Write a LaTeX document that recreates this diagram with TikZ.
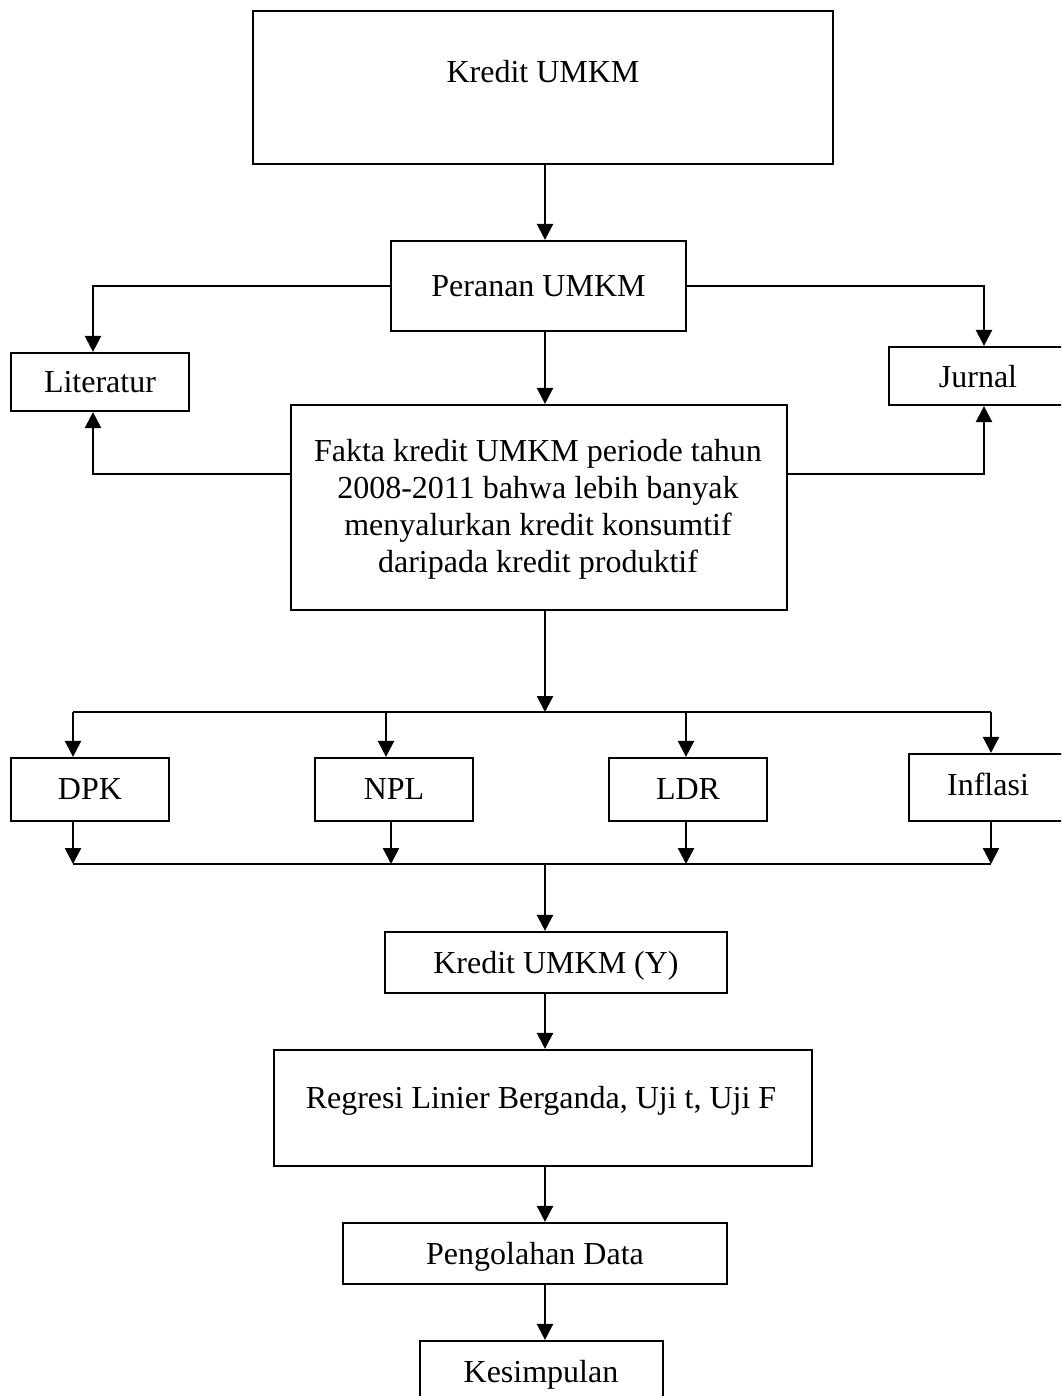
\documentclass[tikz,border=0pt]{standalone}
\usepackage{fontspec}
\setmainfont{Liberation Serif}
\usetikzlibrary{arrows.meta}
\begin{document}
\begin{tikzpicture}[x=1pt,y=-1pt,
  box/.style={draw=black,line width=2.2pt,rectangle,inner sep=0pt,text depth=0pt,font=\fontsize{32}{37}\selectfont},
  txt/.style={inner sep=0pt,align=center,font=\fontsize{32}{37}\selectfont},
  arr/.style={line width=2.4pt,-{Triangle[width=16pt,length=16pt]}},
  ln/.style={line width=2.4pt}]
\useasboundingbox (0,0) rectangle (1061,1396);
\clip (0,0) rectangle (1061,1396);
% coordinates
\coordinate (spine) at (545,0);
\coordinate (lx) at (93,0);
\coordinate (jx) at (984,0);
\coordinate (fy) at (0,474);
\coordinate (bt) at (545,712);
\coordinate (btl) at (73,712);
\coordinate (btn) at (386,712);
\coordinate (btd) at (686,712);
\coordinate (btr) at (991,712);
\coordinate (bb) at (545,864);
\coordinate (bbl) at (73,864);
\coordinate (bbn) at (391,864);
\coordinate (bbd) at (686,864);
\coordinate (bbr) at (991,864);
% boxes
\node[box,minimum width=580,minimum height=153] (k1) at (543,87.5) {};
\node[txt] (k1t) at (543,72) {Kredit UMKM};
\node[box,minimum width=295,minimum height=90] (pr) at (538.5,286) {Peranan UMKM};
\node[box,minimum width=178,minimum height=58] (lit) at (100,382) {Literatur};
\node[box,minimum width=186,minimum height=58] (jur) at (982,376) {};
\node[txt] (jurt) at (978,377) {Jurnal};
\node[box,minimum width=496,minimum height=205] (fk) at (539,507.5) {};
\node[txt] (fkt) at (538,509) {Fakta kredit UMKM periode tahun\\2008-2011 bahwa lebih banyak\\menyalurkan kredit konsumtif\\daripada kredit produktif};
\node[box,minimum width=158,minimum height=63] (dpk) at (90,789.5) {DPK};
\node[box,minimum width=158,minimum height=63] (npl) at (394,789.5) {NPL};
\node[box,minimum width=158,minimum height=63] (ldr) at (688,789.5) {LDR};
\node[box,minimum width=166,minimum height=67] (inf) at (992,787.5) {};
\node[txt] (inft) at (988,784.5) {Inflasi};
\node[box,minimum width=342,minimum height=61] (ky) at (556,962.5) {Kredit UMKM (Y)};
\node[box,minimum width=538,minimum height=116] (rg) at (543,1108) {};
\node[txt,text depth=0pt] (rgt) at (541,1097) {Regresi Linier Berganda, Uji t, Uji F};
\node[box,minimum width=384,minimum height=61] (pd) at (535,1253.5) {Pengolahan Data};
\node[box,minimum width=243,minimum height=69] (ks) at (541.5,1375.5) {};
\node[txt,text depth=0pt] (kst) at (541,1371) {Kesimpulan};
% connectors
\draw[arr] (k1.south -| spine) -- (pr.north -| spine);
\draw[arr] (pr.west) -| (lit.north -| lx);
\draw[arr] (pr.east) -| (jur.north -| jx);
\draw[arr] (pr.south -| spine) -- (fk.north -| spine);
\draw[arr] (fk.west |- fy) -| (lit.south -| lx);
\draw[arr] (fk.east |- fy) -| (jur.south -| jx);
\draw[arr] (fk.south -| spine) -- (bt);
\draw[ln] (btl) -- (btr);
\draw[arr] (btl) -- (dpk.north -| btl);
\draw[arr] (btn) -- (npl.north -| btn);
\draw[arr] (btd) -- (ldr.north -| btd);
\draw[arr] (btr) -- (inf.north -| btr);
\draw[arr] (dpk.south -| bbl) -- (bbl);
\draw[arr] (npl.south -| bbn) -- (bbn);
\draw[arr] (ldr.south -| bbd) -- (bbd);
\draw[arr] (inf.south -| bbr) -- (bbr);
\draw[ln] (bbl) -- (bbr);
\draw[arr] (bb) -- (ky.north -| spine);
\draw[arr] (ky.south -| spine) -- (rg.north -| spine);
\draw[arr] (rg.south -| spine) -- (pd.north -| spine);
\draw[arr] (pd.south -| spine) -- (ks.north -| spine);
\end{tikzpicture}
\end{document}
